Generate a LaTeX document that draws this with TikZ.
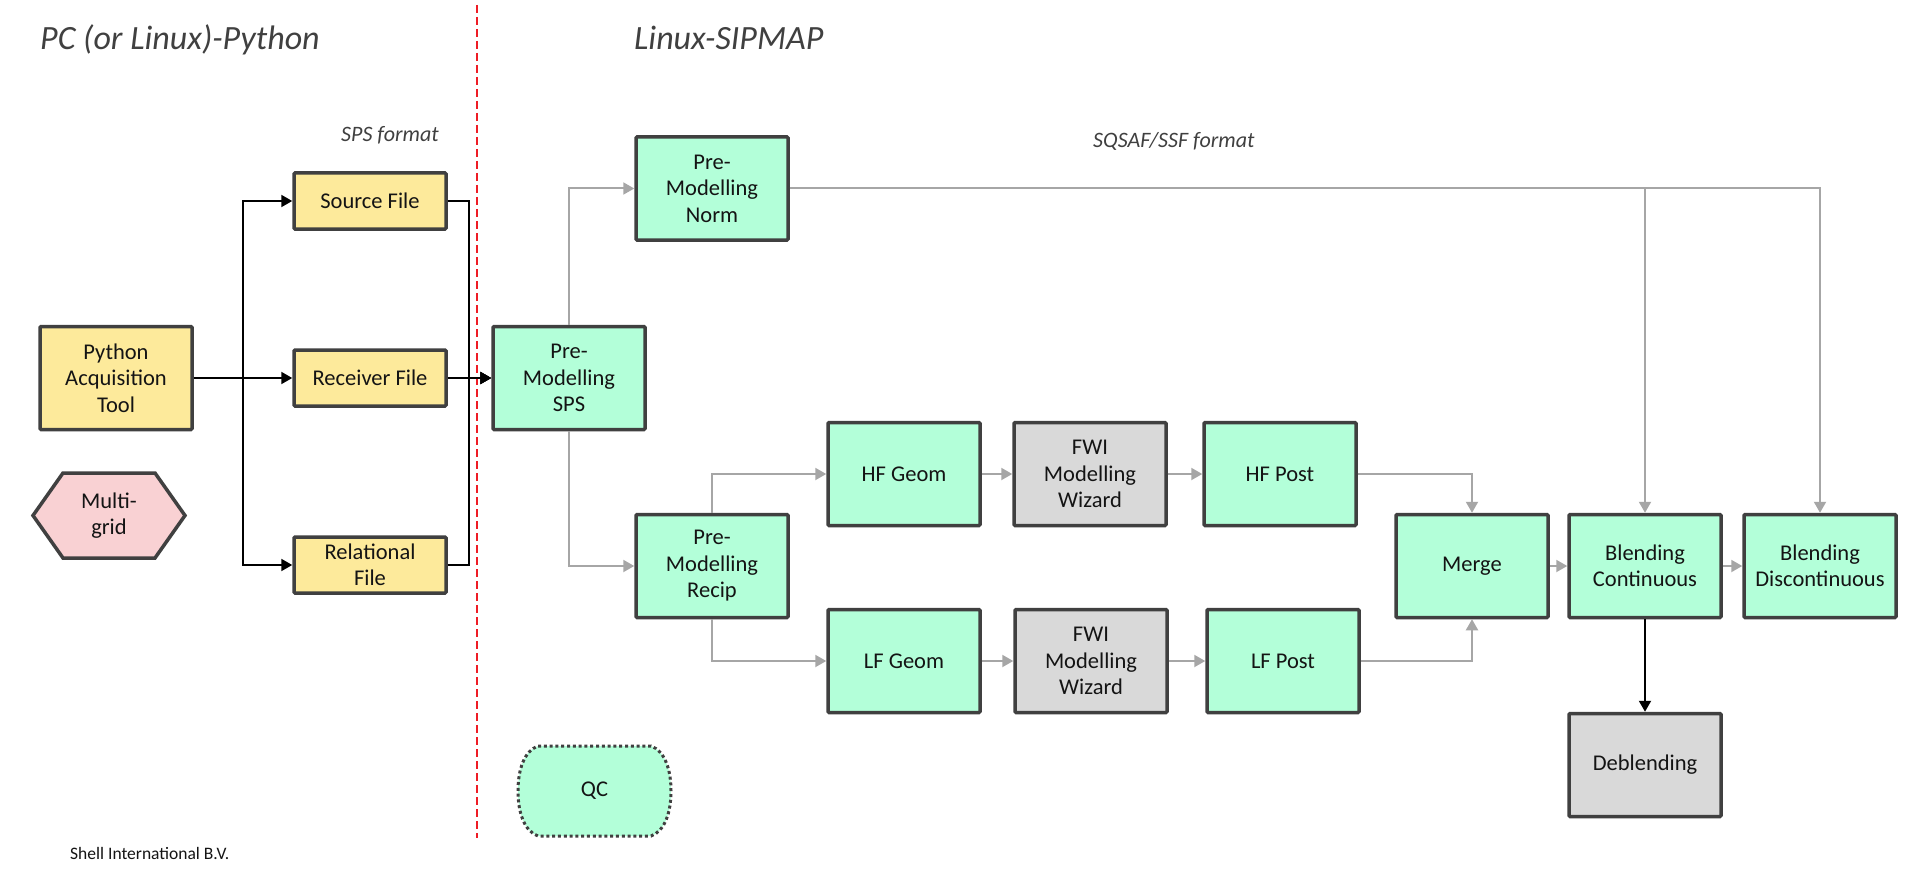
\documentclass[tikz,border=0pt]{standalone}
\usepackage{fontspec}
\setmainfont{Carlito}
\usetikzlibrary{arrows.meta,calc}
\definecolor{boxline}{HTML}{404040}
\definecolor{yellowfill}{HTML}{FDEA9B}
\definecolor{mintfill}{HTML}{B3FFD9}
\definecolor{grayfill}{HTML}{D9D9D9}
\definecolor{pinkfill}{HTML}{F9D1D3}
\definecolor{conngray}{HTML}{A6A6A6}
\definecolor{textdark}{HTML}{141414}
\definecolor{titlegray}{HTML}{404040}
\definecolor{dashred}{HTML}{EE1C25}
\newcommand\mybxfont{\fontsize{22.5}{26.5}\selectfont}
\newcommand\mytitlefont{\fontsize{34}{38}\selectfont\itshape}
\newcommand\mynotefont{\fontsize{22}{26}\selectfont\itshape}
\begin{document}
\begin{tikzpicture}[x=1pt,y=-1pt,
  box/.style={draw=boxline, line width=3.5pt, rounded corners=1pt,
    minimum width=152pt, minimum height=103pt, inner sep=0pt,
    align=center, font=\mybxfont, text=textdark},
  flatbox/.style={box, minimum height=56pt},
  ybox/.style={box, fill=yellowfill},
  yflat/.style={flatbox, fill=yellowfill},
  mbox/.style={box, fill=mintfill},
  gbox/.style={box, fill=grayfill},
  blk/.style={draw=black, line width=2pt, -{Triangle[length=11pt,width=12pt]}},
  gry/.style={draw=conngray, line width=2pt, -{Triangle[length=11pt,width=12pt]}},
  note/.style={font=\mynotefont, text=titlegray, inner sep=0pt, anchor=base west},
  ttl/.style={font=\mytitlefont, text=titlegray, inner sep=0pt, anchor=base west}
]
\useasboundingbox (0,0) rectangle (1915,872);
\fill[white] (0,0) rectangle (1915,872);

% titles and notes
\node[ttl] (t1) at (40,50) {PC (or Linux)-Python};
\node[ttl] (t2) at (634,50) {Linux-SIPMAP};
\node[note] (n1) at (341,142) {SPS format};
\node[note] (n2) at (1093,148) {SQSAF/SSF format};
\node[font=\fontsize{17.5}{20}\selectfont, text=textdark, inner sep=0pt, anchor=base west] (shell) at (70,859) {Shell International B.V.};

% red divider
\draw[dashred, line width=2pt, dash pattern=on 8pt off 4pt] (476.5,5) -- (476.5,838);

% left boxes
\node[ybox] (py) at (116,378) {Python\\Acquisition\\Tool};
\node[yflat] (src) at (370,201) {Source File};
\node[yflat] (rcv) at (370,378) {Receiver File};
\node[yflat] (rel) at (370,565) {Relational\\File};

% multigrid hexagon
\path[draw=boxline, line width=3.5pt, fill=pinkfill, line join=miter]
  (63,473) -- (155,473) -- (185,515.5) -- (155,558) -- (63,558) -- (33,515.5) -- cycle;
\node[font=\mybxfont, text=textdark, align=center, inner sep=0pt] (mg) at (109,515.5) {Multi-\\grid};

% right boxes
\node[mbox] (sps) at (569,378) {Pre-\\Modelling\\SPS};
\node[mbox] (norm) at (712,188.5) {Pre-\\Modelling\\Norm};
\node[mbox] (recip) at (712,566) {Pre-\\Modelling\\Recip};
\node[mbox] (hfg) at (904,474) {HF Geom};
\node[mbox] (lfg) at (904,661) {LF Geom};
\node[gbox] (fwi1) at (1090,474) {FWI\\Modelling\\Wizard};
\node[gbox] (fwi2) at (1091,661) {FWI\\Modelling\\Wizard};
\node[mbox] (hfp) at (1280,474) {HF Post};
\node[mbox] (lfp) at (1283,661) {LF Post};
\node[mbox] (merge) at (1472,566) {Merge};
\node[mbox] (bc) at (1645,566) {Blending\\Continuous};
\node[mbox] (bd) at (1820,566) {Blending\\Discontinuous};
\node[gbox] (deb) at (1645,765) {Deblending};

% QC terminator-like shape
\path[fill=mintfill, draw=boxline, line width=3pt, dash pattern=on 3pt off 2.8pt, line cap=butt]
  (538,746) -- (651,746)
  .. controls (665,751) and (671,770) .. (671,791)
  .. controls (671,812) and (665,831) .. (651,836)
  -- (538,836)
  .. controls (524,831) and (518,812) .. (518,791)
  .. controls (518,770) and (524,751) .. (538,746) -- cycle;
\node[font=\mybxfont, text=textdark, inner sep=0pt] (qc) at (594.5,791) {QC};

% bus coordinates
\coordinate (busL) at (243,0);
\coordinate (busR) at (469,0);

% black connectors
\draw[blk] (py.east) -- (py.east -| busL) |- (src.west);
\draw[blk] (py.east) -- (rcv.west);
\draw[blk] (py.east) -- (py.east -| busL) |- (rel.west);
\draw[blk] (src.east) -- (src.east -| busR) |- (sps.west);
\draw[blk] (rcv.east) -- (sps.west);
\draw[blk] (rel.east) -- (rel.east -| busR) |- (sps.west);
\draw[blk] (bc.south) -- (deb.north);

% gray connectors
\draw[gry] (sps.north) |- (norm.west);
\draw[gry] (sps.south) |- (recip.west);
\draw[gry] (recip.north) |- (hfg.west);
\draw[gry] (recip.south) |- (lfg.west);
\draw[gry] (hfg) -- (fwi1);
\draw[gry] (fwi1) -- (hfp);
\draw[gry] (lfg) -- (fwi2);
\draw[gry] (fwi2) -- (lfp);
\draw[gry] (hfp.east) -| (merge.north);
\draw[gry] (lfp.east) -| (merge.south);
\draw[gry] (merge) -- (bc);
\draw[gry] (bc) -- (bd);
\draw[gry] (norm.east) -| (bc.north);
\draw[gry] (norm.east) -| (bd.north);
\end{tikzpicture}
\end{document}
